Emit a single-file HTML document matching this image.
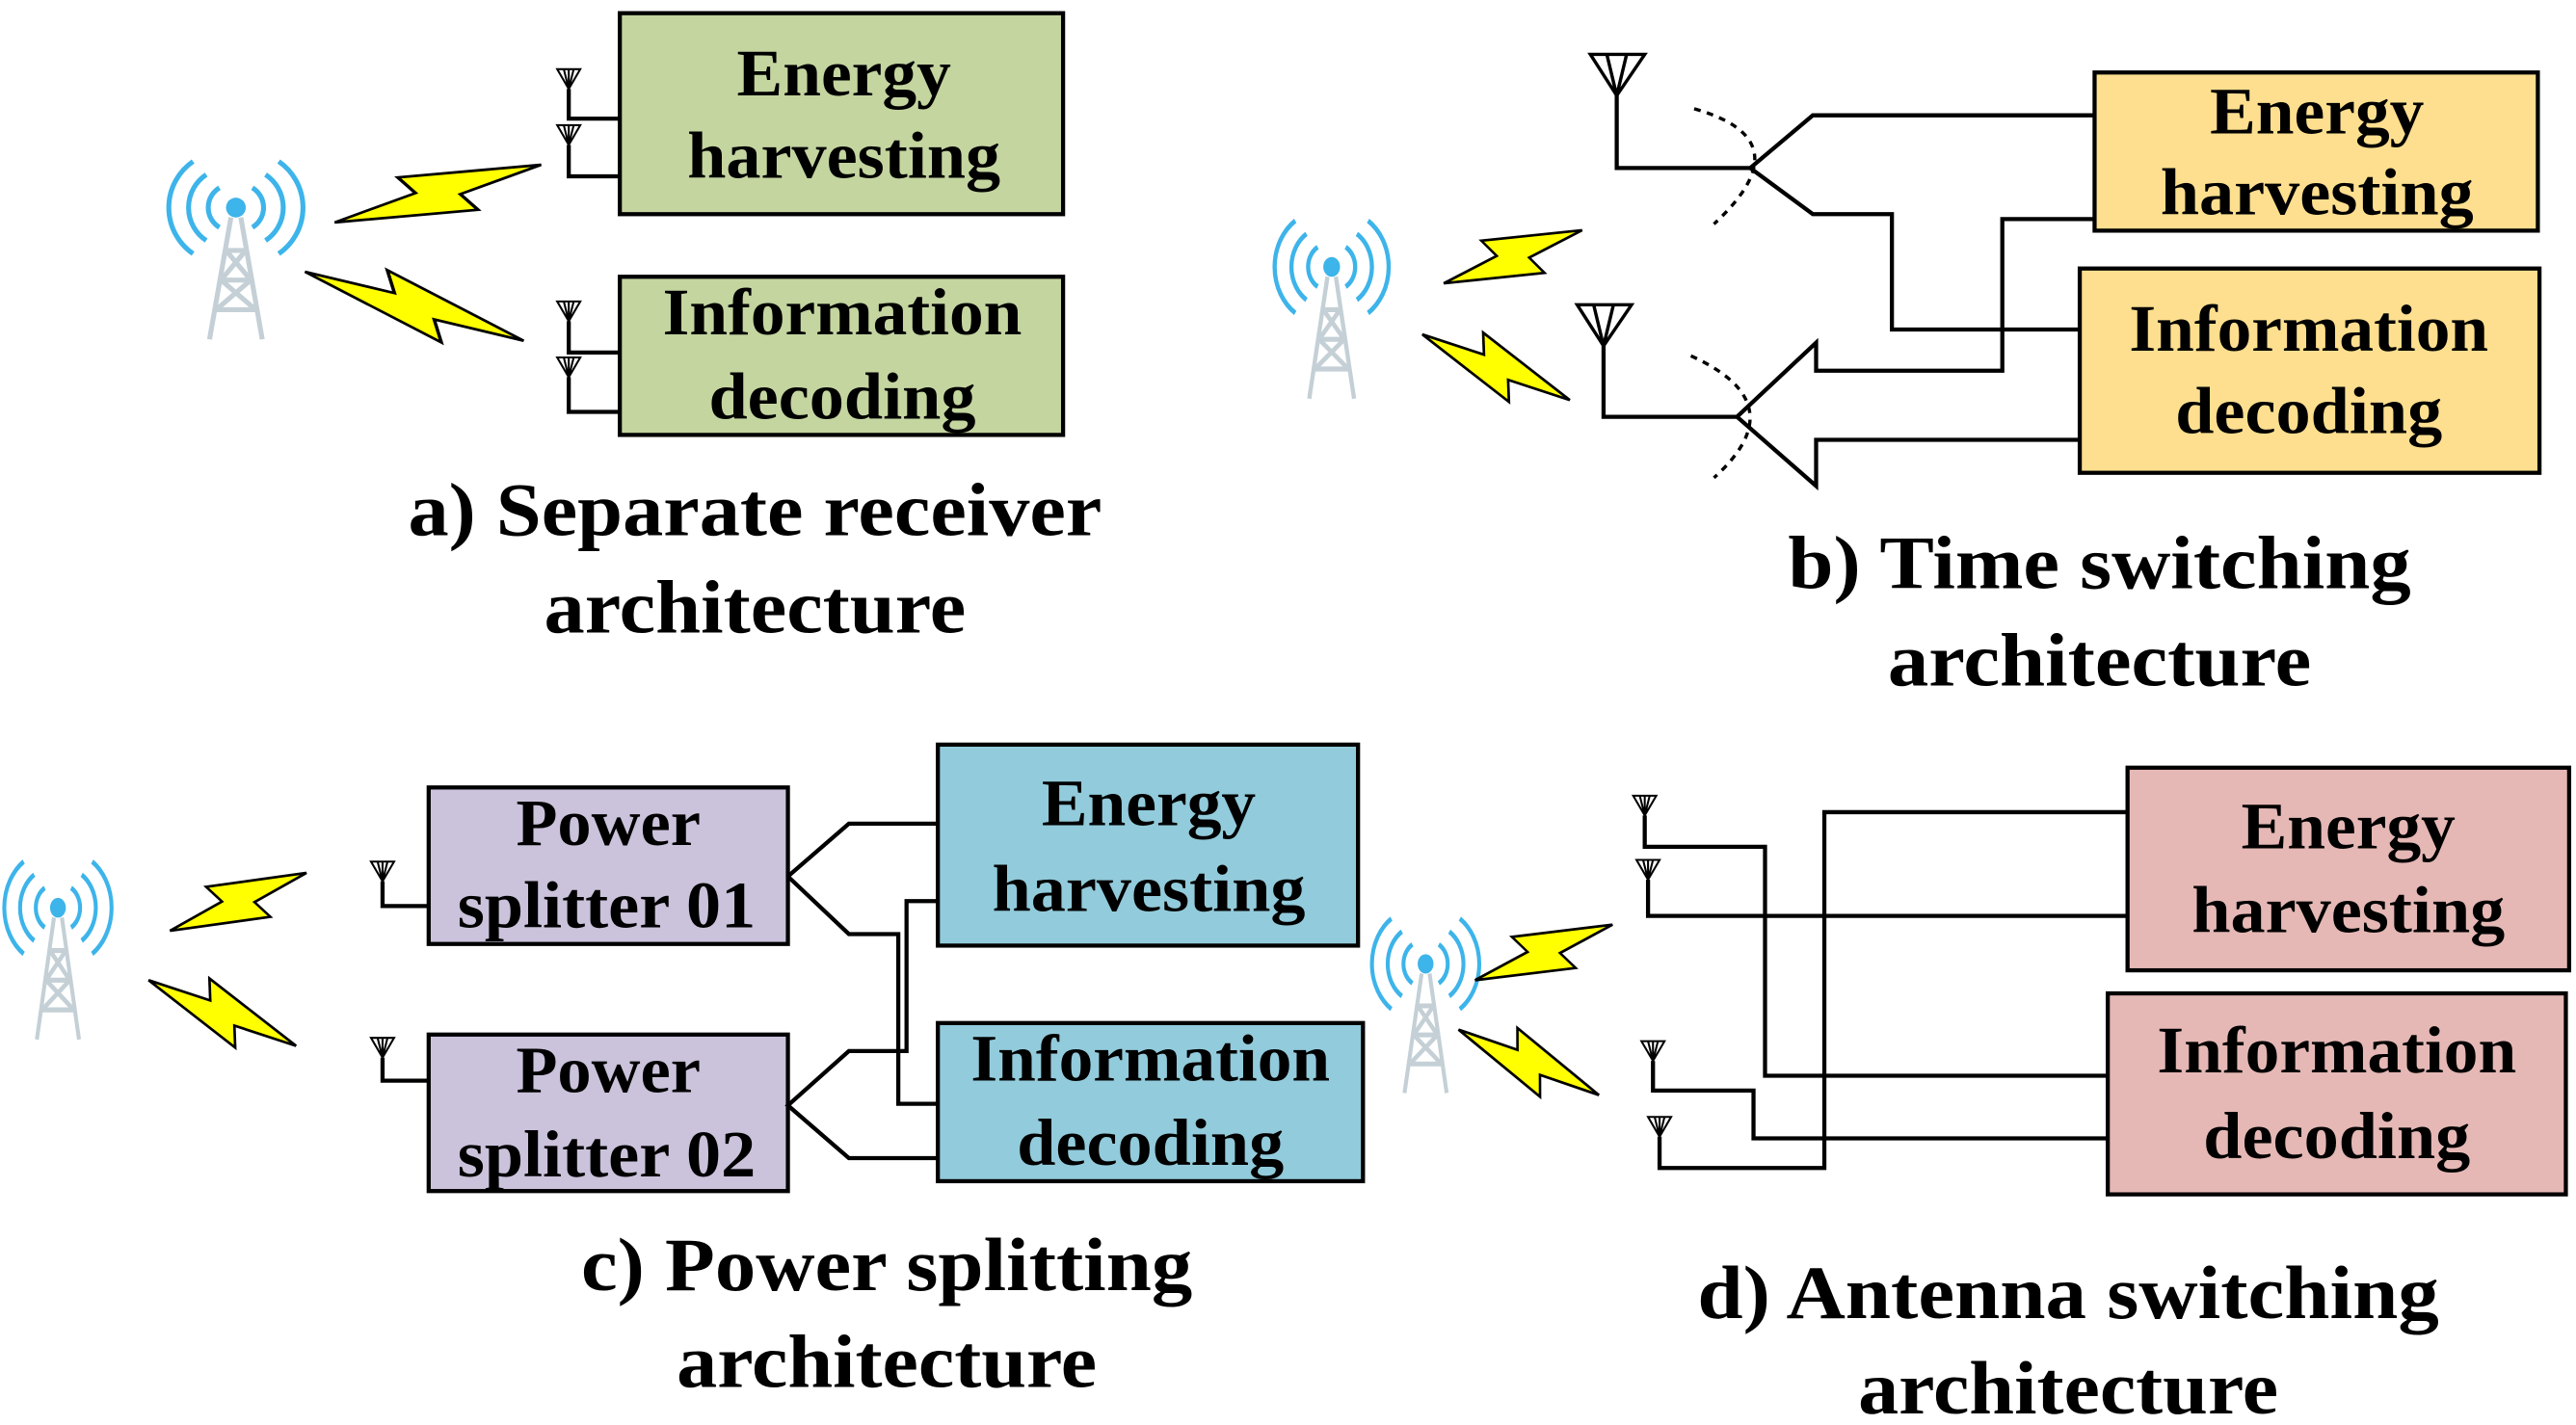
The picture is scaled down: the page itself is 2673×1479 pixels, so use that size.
<!DOCTYPE html>
<html><head><meta charset="utf-8"><style>
html,body{margin:0;padding:0;background:#fff}
svg{display:block}
text{font-family:"Liberation Serif",serif;font-weight:bold;fill:#000}
</style></head><body>
<svg width="2673" height="1479" viewBox="0 0 1563 865" xmlns="http://www.w3.org/2000/svg">
<defs>
<g id="tower">
  <g fill="none" stroke="#3db4ea" stroke-width="3">
    <path d="M-10,-16 A14,14 0 0 0 -10,8"/><path d="M10,-16 A14,14 0 0 1 10,8"/>
    <path d="M-18,-24 A24,24 0 0 0 -18,16"/><path d="M18,-24 A24,24 0 0 1 18,16"/>
    <path d="M-26,-32 A34,34 0 0 0 -26,24"/><path d="M26,-32 A34,34 0 0 1 26,24"/>
  </g>
  <circle cx="0" cy="-4" r="6" fill="#3db4ea"/>
  <g fill="none" stroke="#c4d0d6" stroke-width="3">
    <path d="M-3,2 L-16,76 M3,2 L16,76 M-6,22 L6,22 M-9,40 L9,40 M-12,58 L12,58 M-6,22 L9,40 M6,22 L-9,40 M-9,40 L12,58 M9,40 L-12,58"/>
  </g>
</g>
<polygon id="bolt" points="0,0 40,-4 34,-16 100,0 60,4 66,16" fill="#ffff00" stroke="#000" stroke-width="1.6" stroke-linejoin="miter"/>
<g id="ant" fill="none" stroke="#000" stroke-width="1.2">
  <path d="M-7,0 L7,0 L0,12 Z M-3,0 L0,12 L3,0 M0,0 L0,12"/>
</g>
</defs>

<g stroke="#000" stroke-width="2.5" fill="none">
<!-- Panel a -->
<rect x="376" y="8" width="269" height="122" fill="#c4d5a0"/>
<rect x="376" y="168" width="269" height="96" fill="#c4d5a0"/>
<path d="M345,54 L345,72 L376,72 M345,88 L345,107 L376,107"/>
<path d="M345,195 L345,214 L376,214 M345,229 L345,250 L376,250"/>
<!-- Panel b -->
<rect x="1271" y="44" width="269" height="96" fill="#fddf8f"/>
<rect x="1262" y="163" width="279" height="124" fill="#fddf8f"/>
<path d="M981,55 L981,102 L1062,102 L1100,70 L1271,70 M1062,102 L1100,130 L1148,130 L1148,200 L1262,200"/>
<path d="M1271,133 L1215,133 L1215,225 L1102,225 L1102,208 L1054,253 L1102,295 L1102,267 L1262,267"/>
<path d="M973,210 L973,253 L1054,253"/>
<path d="M1028,66 Q1095,85 1040,136 M1026,216 Q1090,245 1040,290" stroke-dasharray="4,4" stroke-width="2"/>
<!-- Panel c -->
<rect x="260" y="478" width="218" height="95" fill="#cbc2db"/>
<rect x="260" y="628" width="218" height="95" fill="#cbc2db"/>
<rect x="569" y="452" width="255" height="122" fill="#92cbdb"/>
<rect x="569" y="621" width="258" height="96" fill="#92cbdb"/>
<path d="M232,535 L232,550 L260,550 M232,642 L232,656 L260,656"/>
<path d="M478,532 L515,500 L569,500 M478,532 L515,567 L545,567 L545,670 L569,670"/>
<path d="M569,547 L550,547 L550,638 L515,638 L478,671 L515,703 L569,703"/>
<!-- Panel d -->
<rect x="1291" y="466" width="268" height="123" fill="#e5b8b5"/>
<rect x="1279" y="603" width="278" height="122" fill="#e5b8b5"/>
<path d="M998,495 L998,514 L1071,514 L1071,653 L1279,653"/>
<path d="M1000,534 L1000,556 L1291,556"/>
<path d="M1003,644 L1003,662 L1064,662 L1064,691 L1279,691"/>
<path d="M1007,690 L1007,709 L1107,709 L1107,493 L1291,493"/>
</g>

<!-- antennas -->
<use href="#ant" x="345" y="42"/><use href="#ant" x="345" y="76"/>
<use href="#ant" x="345" y="183"/><use href="#ant" x="345" y="217"/>
<use href="#ant" x="232" y="523"/><use href="#ant" x="232" y="630"/>
<use href="#ant" x="998" y="483"/><use href="#ant" x="1000" y="522"/>
<use href="#ant" x="1003" y="632"/><use href="#ant" x="1007" y="678"/>
<g fill="none" stroke="#000" stroke-width="2">
<path d="M965,33 L998,33 L981,58 Z M975,33 L981,58 L987,33"/>
<path d="M957,185 L990,185 L973,210 Z M967,185 L973,210 L979,185"/>
</g>

<!-- towers -->
<use href="#tower" transform="translate(143,130)"/>
<use href="#tower" transform="translate(808,166) scale(0.85,1.0)"/>
<use href="#tower" transform="translate(35,555) scale(0.8,1.0)"/>
<use href="#tower" transform="translate(865,589) scale(0.8,0.98)"/>

<!-- bolts -->
<use href="#bolt" transform="translate(203,135) rotate(-15.6) scale(1.3,1)"/>
<use href="#bolt" transform="translate(185,165) rotate(17.5) scale(1.39,1)"/>
<use href="#bolt" transform="translate(876,172) rotate(-21) scale(0.9,1)"/>
<use href="#bolt" transform="translate(863,203) rotate(24) scale(0.98,1)"/>
<use href="#bolt" transform="translate(103,565) rotate(-23) scale(0.9,1)"/>
<use href="#bolt" transform="translate(90,595) rotate(24) scale(0.98,1)"/>
<use href="#bolt" transform="translate(895,595) rotate(-22) scale(0.9,1)"/>
<use href="#bolt" transform="translate(885,625) rotate(25) scale(0.94,1)"/>

<!-- box text -->
<g font-size="40" text-anchor="middle">
<text x="512" y="58" textLength="130" lengthAdjust="spacingAndGlyphs">Energy</text>
<text x="512" y="108" textLength="190" lengthAdjust="spacingAndGlyphs">harvesting</text>
<text x="511" y="203" textLength="218" lengthAdjust="spacingAndGlyphs">Information</text>
<text x="511" y="254" textLength="162" lengthAdjust="spacingAndGlyphs">decoding</text>

<text x="1406" y="81" textLength="130" lengthAdjust="spacingAndGlyphs">Energy</text>
<text x="1406" y="130" textLength="190" lengthAdjust="spacingAndGlyphs">harvesting</text>
<text x="1401" y="213" textLength="218" lengthAdjust="spacingAndGlyphs">Information</text>
<text x="1401" y="263" textLength="162" lengthAdjust="spacingAndGlyphs">decoding</text>

<text x="369" y="513" textLength="112" lengthAdjust="spacingAndGlyphs">Power</text>
<text x="368" y="563" textLength="181" lengthAdjust="spacingAndGlyphs">splitter 01</text>
<text x="369" y="663" textLength="112" lengthAdjust="spacingAndGlyphs">Power</text>
<text x="368" y="714" textLength="181" lengthAdjust="spacingAndGlyphs">splitter 02</text>

<text x="697" y="501" textLength="130" lengthAdjust="spacingAndGlyphs">Energy</text>
<text x="697" y="553" textLength="190" lengthAdjust="spacingAndGlyphs">harvesting</text>
<text x="698" y="656" textLength="218" lengthAdjust="spacingAndGlyphs">Information</text>
<text x="698" y="707" textLength="162" lengthAdjust="spacingAndGlyphs">decoding</text>

<text x="1425" y="515" textLength="130" lengthAdjust="spacingAndGlyphs">Energy</text>
<text x="1425" y="566" textLength="190" lengthAdjust="spacingAndGlyphs">harvesting</text>
<text x="1418" y="651" textLength="218" lengthAdjust="spacingAndGlyphs">Information</text>
<text x="1418" y="703" textLength="162" lengthAdjust="spacingAndGlyphs">decoding</text>
</g>

<!-- captions -->
<g font-size="46" text-anchor="middle">
<text x="458" y="325" textLength="421" lengthAdjust="spacingAndGlyphs">a) Separate receiver</text>
<text x="458" y="384" textLength="256" lengthAdjust="spacingAndGlyphs">architecture</text>
<text x="1274" y="357" textLength="378" lengthAdjust="spacingAndGlyphs">b) Time switching</text>
<text x="1274" y="416" textLength="257" lengthAdjust="spacingAndGlyphs">architecture</text>
<text x="538" y="783" textLength="371" lengthAdjust="spacingAndGlyphs">c) Power splitting</text>
<text x="538" y="842" textLength="255" lengthAdjust="spacingAndGlyphs">architecture</text>
<text x="1255" y="800" textLength="450" lengthAdjust="spacingAndGlyphs">d) Antenna switching</text>
<text x="1255" y="858" textLength="255" lengthAdjust="spacingAndGlyphs">architecture</text>
</g>
</svg>
</body></html>
